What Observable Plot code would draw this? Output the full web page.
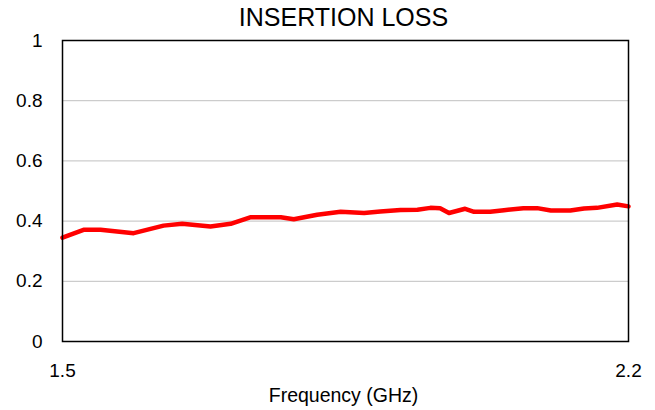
<!DOCTYPE html>
<html>
<head>
<meta charset="utf-8">
<script src="https://cdn.jsdelivr.net/npm/d3@7"></script>
<script src="https://cdn.jsdelivr.net/npm/@observablehq/plot@0.6"></script>
<style>
  html, body { margin: 0; padding: 0; background: #fff; overflow: hidden; }
</style>
</head>
<body>
<div id="chart"></div>
<script>
const chartTitle = "INSERTION LOSS";
const xLabel = "Frequency (GHz)";
const xTicks = [1.5, 2.2];
const yTicks = [0, 0.2, 0.4, 0.6, 0.8, 1];
const gridValues = [0.2, 0.4, 0.6, 0.8];

const freq = [1.5, 1.526, 1.547, 1.588, 1.625, 1.648, 1.683, 1.708, 1.733, 1.770, 1.786, 1.815, 1.844, 1.873, 1.893, 1.918, 1.939, 1.955, 1.967, 1.978, 1.998, 2.009, 2.029, 2.046, 2.070, 2.087, 2.104, 2.128, 2.145, 2.161, 2.186, 2.2];
const loss = [0.345, 0.371, 0.371, 0.36, 0.385, 0.391, 0.382, 0.391, 0.413, 0.413, 0.406, 0.421, 0.431, 0.427, 0.432, 0.437, 0.438, 0.444, 0.443, 0.427, 0.441, 0.431, 0.431, 0.436, 0.443, 0.443, 0.435, 0.435, 0.442, 0.444, 0.455, 0.449];

const data = freq.map((f, i) => ({f, v: loss[i]}));

const chart = Plot.plot({
  width: 655,
  height: 410,
  marginLeft: 62,
  marginRight: 27,
  marginTop: 40,
  marginBottom: 69,
  style: {fontFamily: "'Liberation Sans', Arial, sans-serif", fontSize: "19px", color: "#000", background: "#fff"},
  x: {domain: [1.5, 2.2], ticks: xTicks, tickSize: 0, tickPadding: 22, tickFormat: d => String(d), label: null},
  y: {domain: [0, 1], ticks: yTicks, tickSize: 0, tickPadding: 20, tickFormat: d => String(d), label: null},
  marks: [
    Plot.ruleY(gridValues, {stroke: "#c0c0c0", strokeWidth: 1}),
    Plot.line(data, {x: "f", y: "v", stroke: "#ff0000", strokeWidth: 4.5, strokeLinejoin: "round", strokeLinecap: "round"}),
    Plot.frame({stroke: "#000", strokeWidth: 1.5}),
    Plot.text([chartTitle], {frameAnchor: "top", lineAnchor: "middle", dy: -23, dx: -2, fontSize: 25, fill: "#000"}),
    Plot.text([xLabel], {frameAnchor: "bottom", lineAnchor: "middle", dy: 54, dx: -2, fontSize: 19.5, fill: "#000"})
  ]
});
document.getElementById("chart").appendChild(chart);
</script>
</body>
</html>
